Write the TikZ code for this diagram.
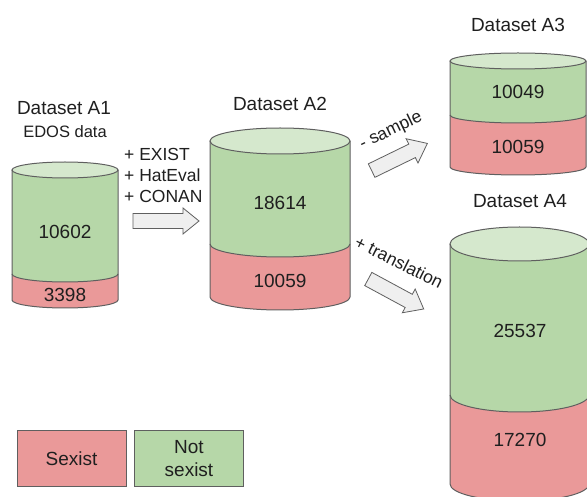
\documentclass[tikz,border=0pt]{standalone}
\usepackage{fontspec}
\setmainfont{Liberation Sans}
\definecolor{grn}{HTML}{B6D7A8}
\definecolor{grntop}{HTML}{D5E8CD}
\definecolor{rd}{HTML}{EA9999}
\definecolor{edge}{HTML}{5F5F5F}
\definecolor{arrfill}{HTML}{EFEFEF}
\definecolor{txt}{HTML}{1F1F1F}
\tikzset{
  lbl/.style={text=txt, inner sep=0pt, font=\fontsize{19}{21}\selectfont},
  smalllbl/.style={text=txt, inner sep=0pt, font=\fontsize{16.5}{18}\selectfont},
  addlbl/.style={text=txt, inner sep=0pt, anchor=west, font=\fontsize{17.5}{19}\selectfont},
  cyledge/.style={draw=edge, line width=1pt},
  blockarr/.style={fill=arrfill, draw=edge, line width=0.8pt, line join=miter},
  legendbox/.style={draw=edge, line width=1pt, minimum width=109pt, minimum height=55pt, inner sep=0pt, text=txt, align=center, font=\fontsize{19}{23}\selectfont}
}
% \cyl{cx}{rx}{ry}{Ytop}{Ymid}{Ybot}
\newcommand{\cyl}[6]{%
  \fill[rd] (#1-#2,#5) -- (#1-#2,#6) arc(180:360:#2 and #3) -- (#1+#2,#5) -- cycle;
  \fill[grn] (#1-#2,#4) -- (#1-#2,#5) arc(180:360:#2 and #3) -- (#1+#2,#4) -- cycle;
  \fill[grntop] (#1,#4) ellipse ({#2} and {#3});
  \draw[cyledge] (#1-#2,#4) -- (#1-#2,#6) arc(180:360:#2 and #3) -- (#1+#2,#4);
  \draw[cyledge] (#1-#2,#5) arc(180:360:#2 and #3);
  \draw[cyledge] (#1,#4) ellipse ({#2} and {#3});
}
% \blockarrow{cx}{cy}{angle}{length}{shaftw}{headw}{headlen}
\newcommand{\blockarrow}[7]{%
  \draw[blockarr, shift={(#1,#2)}, rotate=#3]
    (-#4/2,-#5/2) -- (#4/2-#7,-#5/2) -- (#4/2-#7,-#6/2) -- (#4/2,0)
    -- (#4/2-#7,#6/2) -- (#4/2-#7,#5/2) -- (-#4/2,#5/2) -- cycle;
}
\begin{document}
\begin{tikzpicture}[x=1pt,y=1pt]
\useasboundingbox (0,0) rectangle (587,496);
\fill[white] (0,0) rectangle (587,496);

% Cylinders
\cyl{65}{53}{8}{326}{222}{196}
\cyl{280}{70}{13}{355}{252}{199}
\cyl{518}{68}{8}{435}{381}{329}
\cyl{519.5}{69.5}{17}{252}{101}{12}

% Titles
\node[lbl] (t1) at (64,388) {Dataset A1};
\node[smalllbl] (t1b) at (65,364) {EDOS data};
\node[lbl] (t2) at (280,392) {Dataset A2};
\node[lbl] (t3) at (518,471) {Dataset A3};
\node[lbl] (t4) at (520,295) {Dataset A4};

% Counts
\node[lbl] (n1g) at (65,264) {10602};
\node[lbl] (n1r) at (65,201) {3398};
\node[lbl] (n2g) at (280,293) {18614};
\node[lbl] (n2r) at (280,215) {10059};
\node[lbl] (n3g) at (518,404) {10049};
\node[lbl] (n3r) at (518,349) {10059};
\node[lbl] (n4g) at (520,165) {25537};
\node[lbl] (n4r) at (520,56) {17270};

% Additions
\node[addlbl] (a1) at (124,342) {+ EXIST};
\node[addlbl] (a2) at (124,321) {+ HatEval};
\node[addlbl] (a3) at (124,300) {+ CONAN};

% Block arrows
\blockarrow{166}{275}{0}{66}{15}{26}{16}
\blockarrow{399.5}{339}{26}{62}{15}{27}{17}
\blockarrow{396}{202}{-28.4}{63}{15}{27}{17}

% Arrow labels
\node[addlbl, anchor=center, rotate=25.5] (ls) at (391,365) {- sample};
\node[addlbl, anchor=center, rotate=-26.5] (lt) at (399,234) {+ translation};

% Legend
\node[legendbox, fill=rd] (legS) at (71.5,37.5) {Sexist};
\node[legendbox, fill=grn] (legN) at (189,37.5) {Not\\sexist};
\end{tikzpicture}
\end{document}
